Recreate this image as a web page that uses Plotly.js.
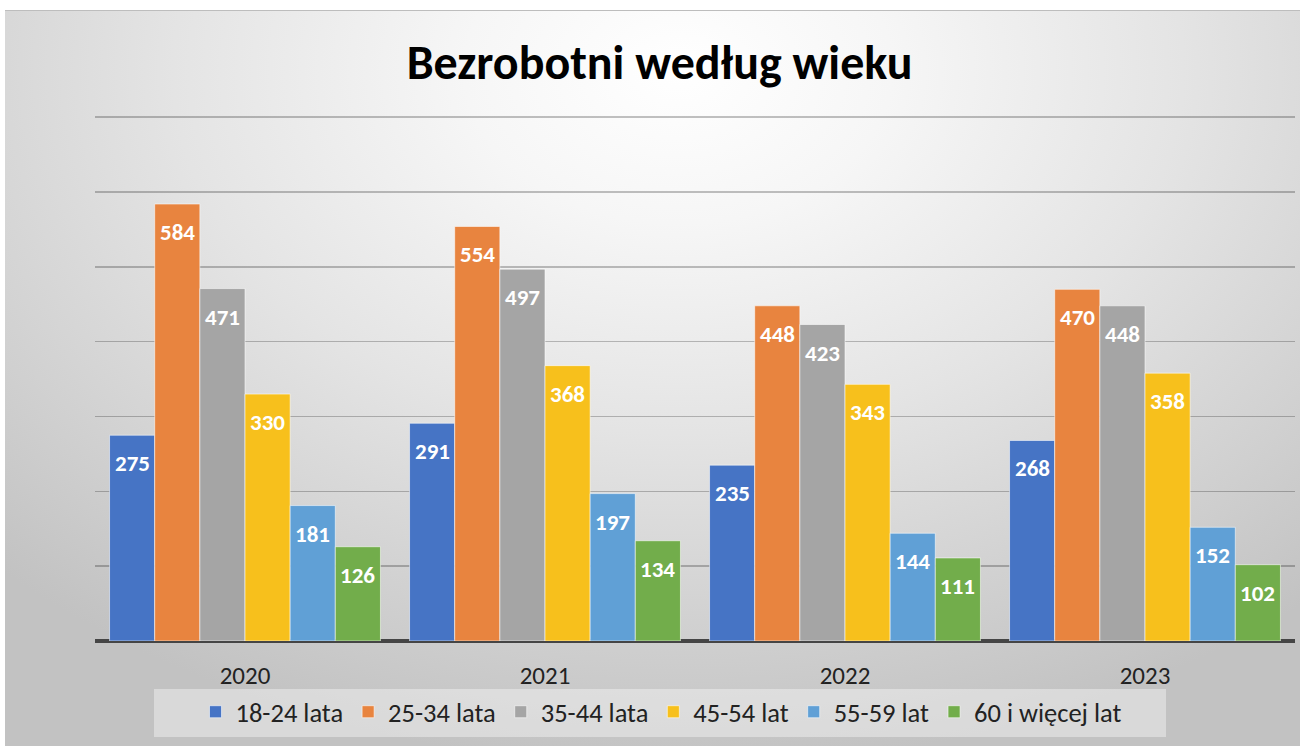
<!DOCTYPE html>
<html>
<head>
<meta charset="utf-8">
<script src="https://cdn.plot.ly/plotly-3.0.1.min.js"></script>
<style>
  html, body { margin: 0; padding: 0; background: #ffffff; }
  #wrap { position: relative; width: 1301px; height: 746px; overflow: hidden; }
  #bg { position: absolute; left: 5px; top: 10px; right: 1px; bottom: 0;
        border-top: 1px solid #bdbdbd;
        background: radial-gradient(ellipse 75% 95% at 52% 8%, #ffffff 0%, #f6f6f6 22%, #e4e4e4 52%, #cfcfcf 82%, #c2c2c2 100%); }
  #chart { position: absolute; left: 0; top: 0; width: 1301px; height: 746px; }
</style>
</head>
<body>
<div id="wrap"><div id="bg"></div><div id="chart"></div></div>
<script>
const years = ['2020', '2021', '2022', '2023'];
const seriesNames = ['18-24 lata', '25-34 lata', '35-44 lata', '45-54 lat', '55-59 lat', '60 i więcej lat'];
const s1824 = [275, 291, 235, 268];
const s2534 = [584, 554, 448, 470];
const s3544 = [471, 497, 423, 448];
const s4554 = [330, 368, 343, 358];
const s5559 = [181, 197, 144, 152];
const s60 = [126, 134, 111, 102];
const seriesValues = [s1824, s2534, s3544, s4554, s5559, s60];
const colors = ['#4674C5', '#E8843F', '#A5A5A5', '#F7C01C', '#60A0D6', '#72AD4B'];

const FONT = "Carlito, 'Liberation Sans Narrow', 'DejaVu Sans Condensed', 'Open Sans', sans-serif";
const W = 1301, H = 746;
const margin = {l: 95, r: 6, t: 115, b: 105};
const yMax = 703;
const bargap = 0.097;

const traces = seriesNames.map((name, i) => ({
  type: 'bar',
  name: name,
  x: years,
  y: seriesValues[i],
  marker: {color: colors[i], line: {color: 'rgba(255,255,255,0.55)', width: 1}},
  hoverinfo: 'skip'
}));

// data labels inside bars near the top, positioned through data coords (category index)
const plotW = W - margin.l - margin.r;
const plotH = H - margin.t - margin.b;
const catW = plotW / years.length;
const barW = catW * (1 - bargap) / seriesNames.length;
const annotations = [];
seriesNames.forEach((name, i) => {
  seriesValues[i].forEach((v, j) => {
    annotations.push({
      x: j, y: v, xref: 'x', yref: 'y',
      text: '<b>' + v + '</b>',
      showarrow: false,
      xshift: (i - (seriesNames.length - 1) / 2) * barW,
      yshift: -28,
      font: {family: FONT, size: 23, color: '#ffffff'}
    });
  });
});

// legend background panel (paper coords derived from pixel box)
const px2x = p => (p - margin.l) / plotW;
const py2y = p => (H - margin.b - p) / plotH;
const shapes = [{
  type: 'rect', xref: 'paper', yref: 'paper', layer: 'below',
  x0: px2x(154), x1: px2x(1166), y0: py2y(737), y1: py2y(689),
  fillcolor: 'rgba(255,255,255,0.38)', line: {width: 0}
}];

const layout = {
  width: W, height: H,
  margin: margin,
  paper_bgcolor: 'rgba(0,0,0,0)',
  plot_bgcolor: 'rgba(0,0,0,0)',
  barmode: 'group',
  bargap: bargap,
  bargroupgap: 0,
  title: {
    text: '<b>Bezrobotni według wieku</b>',
    font: {family: FONT, size: 48, color: '#000000'},
    x: 0.507, xanchor: 'center',
    y: 1 - 62 / H, yanchor: 'middle'
  },
  xaxis: {
    type: 'category',
    range: [-0.5, years.length - 0.5],
    autorange: false,
    showgrid: false,
    showline: false,
    zeroline: false,
    ticks: '',
    tickfont: {family: FONT, size: 25, color: '#222222'},
    ticklabelstandoff: 17
  },
  yaxis: {
    range: [0, yMax],
    autorange: false,
    dtick: 100,
    tick0: 0,
    showticklabels: false,
    showgrid: true,
    gridcolor: 'rgba(0,0,0,0.24)',
    gridwidth: 1.5,
    zeroline: true,
    zerolinecolor: '#454545',
    zerolinewidth: 4,
    showline: false,
    ticks: ''
  },
  showlegend: true,
  legend: {
    orientation: 'h',
    x: px2x(661), xanchor: 'center',
    y: py2y(688), yanchor: 'top',
    bgcolor: 'rgba(0,0,0,0)',
    font: {family: FONT, size: 26.5, color: '#222222'},
    itemwidth: 30,
    traceorder: 'normal'
  },
  shapes: shapes,
  annotations: annotations
};

Plotly.newPlot('chart', traces, layout, {displayModeBar: false, staticPlot: true});
</script>
</body>
</html>
